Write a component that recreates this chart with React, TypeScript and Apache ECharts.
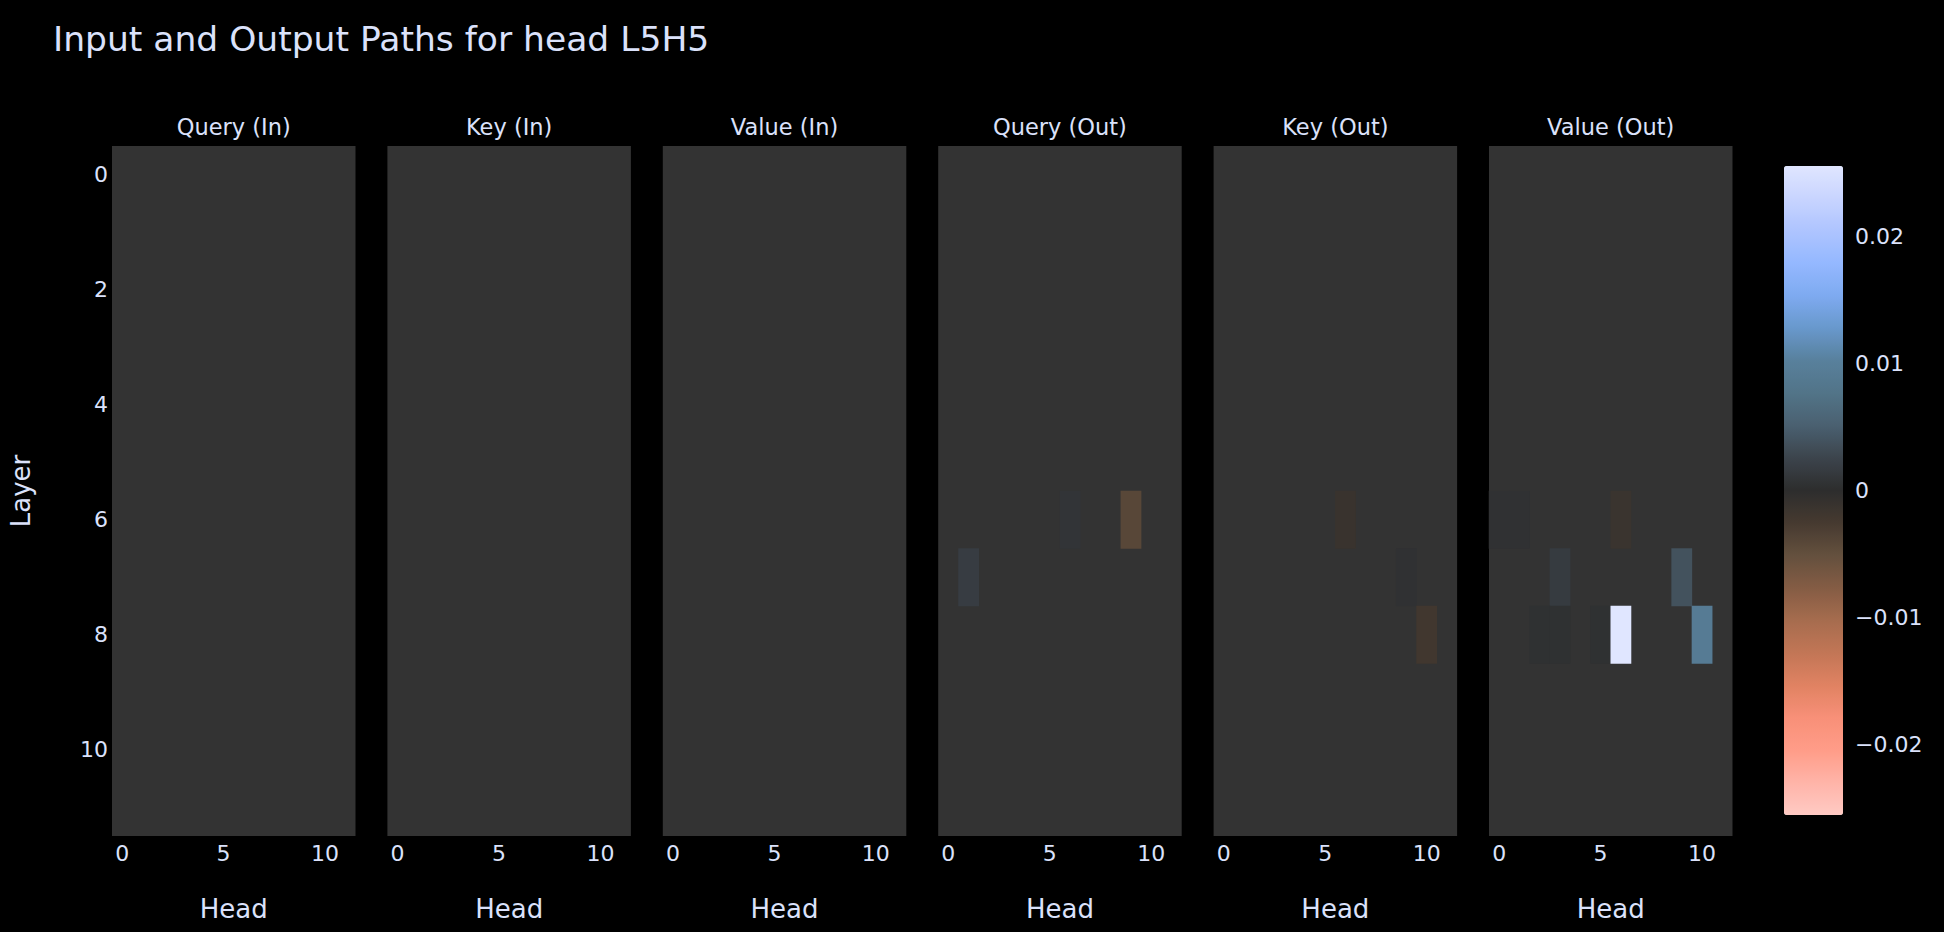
import React, { useEffect, useRef } from "react";
import * as echarts from "echarts";

// ---------- data ----------
const heads = ["0", "1", "2", "3", "4", "5", "6", "7", "8", "9", "10", "11"];
const layers = ["0", "1", "2", "3", "4", "5", "6", "7", "8", "9", "10", "11"];
const panelTitles = ["Query (In)", "Key (In)", "Value (In)", "Query (Out)", "Key (Out)", "Value (Out)"];

// non-zero cells only: [head, layer, value]; zero cells are masked (plot background shows)
const queryIn: [number, number, number][] = [];
const keyIn: [number, number, number][] = [];
const valueIn: [number, number, number][] = [];
const queryOut: [number, number, number][] = [
  [6, 6, 0.0008],
  [9, 6, -0.0041],
  [1, 7, 0.0017],
];
const keyOut: [number, number, number][] = [
  [6, 6, -0.0012],
  [9, 7, 0.0005],
  [10, 8, -0.002],
];
const valueOut: [number, number, number][] = [
  [0, 6, 0.0005],
  [1, 6, 0.0005],
  [6, 6, -0.0013],
  [3, 7, 0.0016],
  [9, 7, 0.0038],
  [2, 8, 0.0004],
  [3, 8, 0.0004],
  [5, 8, 0.0004],
  [6, 8, 0.0256],
  [10, 8, 0.0092],
];
const panels = [queryIn, keyIn, valueIn, queryOut, keyOut, valueOut];

const zMax = 0.0256;
const colorbarTicks = [-0.02, -0.01, 0, 0.01, 0.02];
const headTicks = [0, 5, 10];
const layerTicks = [0, 2, 4, 6, 8, 10];

// colour scale from zmin (index 0) to zmax (last), evenly spaced
const colorScale = [
  "#ffcac4", "#ffb4a8", "#ff9c88", "#f89078", "#e08262",
  "#c27656", "#a66c4e", "#845c44", "#64503e", "#463a30",
  "#2d2d2d",
  "#3c444c", "#4a6070", "#527488", "#58809c", "#6898cc",
  "#7eaaf0", "#94b8ff", "#aec4ff", "#c8d4ff", "#e0e6ff",
];

// ---------- layout ----------
const FONT = "DejaVu Sans";
const TXT = "#dbe2fb";
const PANEL_LEFT = 112;
const PANEL_STRIDE = 275.4;
const PANEL_W = 243.5;
const PANEL_TOP = 146;
const PANEL_H = 690;

export default function App() {
  const ref = useRef<HTMLDivElement>(null);

  useEffect(() => {
    if (!ref.current) return;
    const chart = echarts.init(ref.current, null, { renderer: "svg" });

    const grids: any[] = [];
    const xAxes: any[] = [];
    const yAxes: any[] = [];
    const series: any[] = [];

    panels.forEach((cells, i) => {
      grids.push({
        left: PANEL_LEFT + i * PANEL_STRIDE,
        top: PANEL_TOP,
        width: PANEL_W,
        height: PANEL_H,
        show: true,
        backgroundColor: "#333333",
        borderWidth: 0,
      });
      xAxes.push({
        gridIndex: i,
        type: "category",
        data: heads,
        position: "bottom",
        axisLine: { show: false },
        axisTick: { show: false },
        splitLine: { show: false },
        axisLabel: {
          interval: (idx: number) => headTicks.includes(idx),
          color: TXT,
          fontFamily: FONT,
          fontSize: 22,
          margin: 6,
        },
        name: "Head",
        nameLocation: "middle",
        nameGap: 60,
        nameTextStyle: { color: TXT, fontFamily: FONT, fontSize: 26 },
      });
      yAxes.push({
        gridIndex: i,
        type: "category",
        data: layers,
        inverse: true,
        axisLine: { show: false },
        axisTick: { show: false },
        splitLine: { show: false },
        axisLabel: {
          show: i === 0,
          interval: (idx: number) => layerTicks.includes(idx),
          color: TXT,
          fontFamily: FONT,
          fontSize: 22,
          margin: 4,
        },
        name: i === 0 ? "Layer" : "",
        nameLocation: "middle",
        nameGap: 78,
        nameTextStyle: { color: TXT, fontFamily: FONT, fontSize: 26 },
      });
      series.push({
        type: "heatmap",
        xAxisIndex: i,
        yAxisIndex: i,
        data: cells,
        emphasis: { disabled: true },
        progressive: 0,
      });
    });

    // top axes carrying the subplot titles
    panelTitles.forEach((t, i) => {
      xAxes.push({
        gridIndex: i,
        type: "category",
        data: heads,
        position: "top",
        axisLine: { show: false },
        axisTick: { show: false },
        axisLabel: { show: false },
        splitLine: { show: false },
        name: t,
        nameLocation: "middle",
        nameGap: 8,
        nameTextStyle: { color: TXT, fontFamily: FONT, fontSize: 22.5 },
      });
    });

    // colour bar axis
    const CB_LEFT = 1784, CB_TOP = 166, CB_W = 59, CB_H = 649;
    grids.push({ left: CB_LEFT, top: CB_TOP, width: CB_W, height: CB_H, show: false });
    xAxes.push({ gridIndex: 6, type: "value", show: false });
    yAxes.push({
      gridIndex: 6,
      type: "value",
      position: "right",
      min: -zMax,
      max: zMax,
      axisLine: { show: false },
      axisTick: { show: false },
      splitLine: { show: false },
      axisLabel: {
        customValues: colorbarTicks,
        formatter: (v: number) => (v < 0 ? "\u2212" + String(Math.abs(v)) : String(v)),
        color: TXT,
        fontFamily: FONT,
        fontSize: 22,
        margin: 12,
        align: "left",
      },
    });

    chart.setOption({
      animation: false,
      backgroundColor: "#000000",
      title: {
        text: "Input and Output Paths for head L5H5",
        left: 53,
        top: 21,
        padding: 0,
        textStyle: { color: TXT, fontFamily: FONT, fontSize: 34.5, fontWeight: "normal" },
      },
      grid: grids,
      xAxis: xAxes,
      yAxis: yAxes,
      visualMap: {
        type: "continuous",
        min: -zMax,
        max: zMax,
        calculable: false,
        seriesIndex: [0, 1, 2, 3, 4, 5],
        orient: "vertical",
        left: CB_LEFT,
        top: CB_TOP,
        itemWidth: CB_W,
        itemHeight: CB_H,
        padding: 0,
        text: ["", ""],
        showLabel: false,
        inRange: { color: colorScale },
      },
      series,
    });

    return () => chart.dispose();
  }, []);

  return (
    <div
      ref={ref}
      style={{ position: "fixed", left: 0, top: 0, width: 1944, height: 932, background: "#000" }}
    />
  );
}
